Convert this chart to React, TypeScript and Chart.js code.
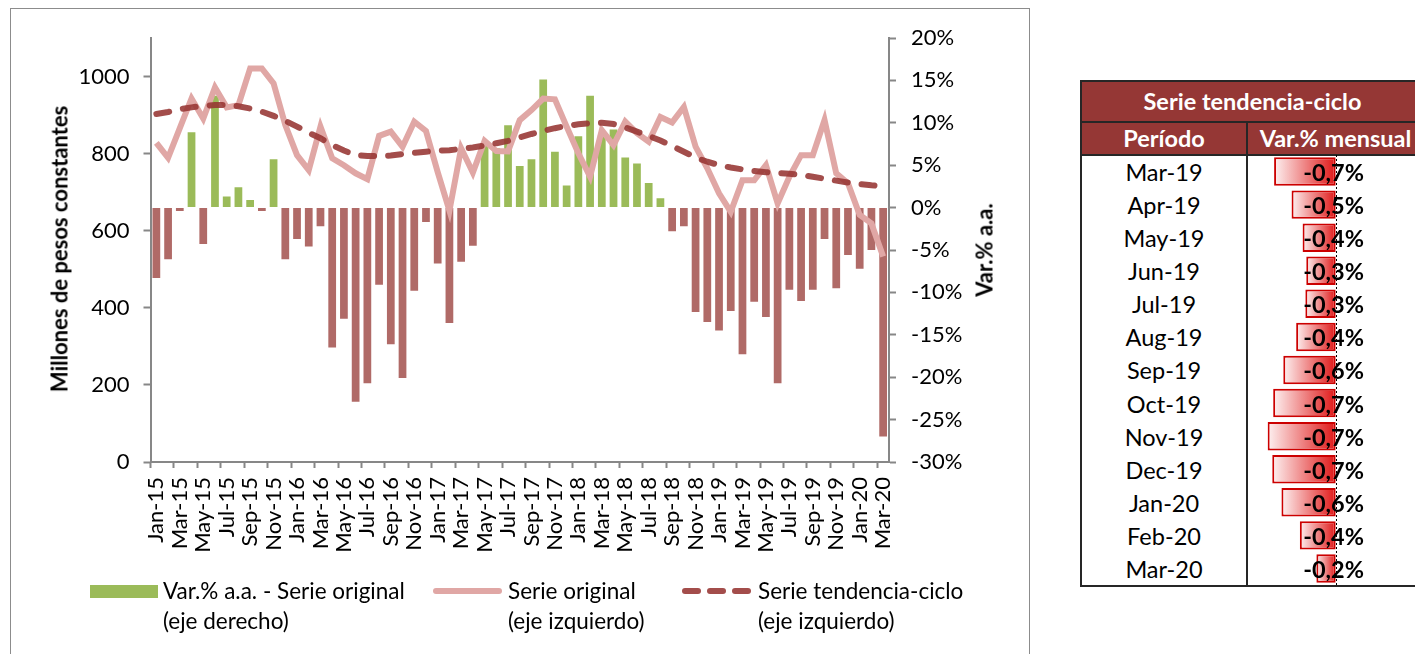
import React, { useEffect, useRef } from 'react';
import { Chart, registerables } from 'chart.js';

Chart.register(...registerables);

const FONT = 'Lato, Carlito, "Liberation Sans", sans-serif';

const months = [
  'Jan-15', 'Feb-15', 'Mar-15', 'Apr-15', 'May-15', 'Jun-15', 'Jul-15', 'Aug-15', 'Sep-15', 'Oct-15', 'Nov-15', 'Dec-15',
  'Jan-16', 'Feb-16', 'Mar-16', 'Apr-16', 'May-16', 'Jun-16', 'Jul-16', 'Aug-16', 'Sep-16', 'Oct-16', 'Nov-16', 'Dec-16',
  'Jan-17', 'Feb-17', 'Mar-17', 'Apr-17', 'May-17', 'Jun-17', 'Jul-17', 'Aug-17', 'Sep-17', 'Oct-17', 'Nov-17', 'Dec-17',
  'Jan-18', 'Feb-18', 'Mar-18', 'Apr-18', 'May-18', 'Jun-18', 'Jul-18', 'Aug-18', 'Sep-18', 'Oct-18', 'Nov-18', 'Dec-18',
  'Jan-19', 'Feb-19', 'Mar-19', 'Apr-19', 'May-19', 'Jun-19', 'Jul-19', 'Aug-19', 'Sep-19', 'Oct-19', 'Nov-19', 'Dec-19',
  'Jan-20', 'Feb-20', 'Mar-20',
];

// Var.% a.a. - Serie original (eje derecho)
const varAA = [
  -8.3, -6.1, -0.4, 8.9, -4.3, 13.2, 1.3, 2.4, 0.9, -0.4, 5.7, -6.1,
  -3.7, -4.6, -2.2, -16.5, -13.1, -22.9, -20.7, -9.1, -16.1, -20.1, -9.8, -1.7,
  -6.6, -13.6, -6.4, -4.5, 7.6, 7.0, 9.7, 4.9, 5.7, 15.1, 6.6, 2.6,
  8.4, 13.2, 8.6, 9.2, 5.9, 5.2, 2.9, 1.1, -2.8, -2.2, -12.3, -13.5,
  -14.5, -12.2, -17.3, -11.1, -12.9, -20.7, -9.7, -11.0, -9.7, -3.7, -9.5, -5.6,
  -7.2, -5.0, -27.0,
];

// Serie original (eje izquierdo)
const serieOriginal = [
  828, 789, 866, 943, 891, 972, 920, 926, 1021, 1021, 982, 874,
  796, 757, 870, 788, 770, 749, 734, 846, 857, 818, 883, 859,
  752, 652, 814, 751, 833, 807, 806, 887, 913, 943, 941, 870,
  801, 740, 861, 822, 883, 853, 831, 895, 881, 921, 818, 762,
  697, 649, 731, 731, 770, 671, 740, 796, 796, 887, 749, 723,
  641, 619, 533,
];

// Serie tendencia-ciclo (eje izquierdo)
const serieTendencia = [
  903, 908, 915, 920, 924, 926, 926, 923, 917, 909, 898, 885,
  870, 854, 840, 822, 808, 796, 794, 794, 795, 799, 802, 805,
  808, 809, 812, 816, 821, 827, 833, 842, 851, 859, 866, 872,
  876, 879, 880, 877, 868, 857, 846, 834, 820, 805, 790, 779,
  770, 764, 759, 755, 752, 750, 748, 745, 740, 735, 730, 725,
  721, 718, 716,
];

const leftMax = 1100;
const leftStep = 200;
const leftLastTick = 1000;
const rightMin = -30;
const rightMax = 20;
const rightStep = 5;

// Table: Serie tendencia-ciclo, Var.% mensual
const tablePeriods = ['Mar-19', 'Apr-19', 'May-19', 'Jun-19', 'Jul-19', 'Aug-19', 'Sep-19', 'Oct-19', 'Nov-19', 'Dec-19', 'Jan-20', 'Feb-20', 'Mar-20'];
const tableVar = [-0.67, -0.48, -0.36, -0.32, -0.33, -0.43, -0.57, -0.68, -0.74, -0.69, -0.59, -0.39, -0.21];

const AXIS = '#878787';
const TICK_FONT = 22;

function MainChart() {
  const ref = useRef<HTMLCanvasElement>(null);
  useEffect(() => {
    Chart.defaults.font.family = FONT;
    Chart.defaults.color = '#000';
    const chart = new Chart(ref.current as HTMLCanvasElement, {
      type: 'bar',
      data: {
        labels: months,
        datasets: [
          {
            type: 'line',
            label: 'Serie tendencia-ciclo',
            data: serieTendencia,
            yAxisID: 'yL',
            borderColor: 'rgba(150,52,50,0.88)',
            borderWidth: 6,
            borderDash: [13, 14],
            borderCapStyle: 'round',
            pointRadius: 0,
            tension: 0,
            fill: false,
            order: 1,
          } as any,
          {
            type: 'line',
            label: 'Serie original',
            data: serieOriginal,
            yAxisID: 'yL',
            borderColor: '#E0A7A5',
            borderWidth: 6,
            pointRadius: 0,
            tension: 0,
            fill: false,
            order: 2,
          } as any,
          {
            type: 'bar',
            label: 'Var.% a.a. - Serie original',
            data: varAA,
            yAxisID: 'yR',
            backgroundColor: (c: any) => (c.raw >= 0 ? '#9BBB59' : '#B06A67'),
            barPercentage: 0.66,
            categoryPercentage: 1,
            order: 3,
          } as any,
        ],
      },
      options: {
        animation: false,
        responsive: true,
        maintainAspectRatio: false,
        devicePixelRatio: 1,
        layout: { padding: { top: 30, left: 0, right: 0, bottom: 0 } },
        plugins: { legend: { display: false }, tooltip: { enabled: false } },
        scales: {
          x: {
            grid: {
              display: true,
              drawOnChartArea: false,
              offset: true,
              tickLength: 6,
              tickWidth: 2,
              tickColor: (c: any) => (typeof c.index === 'number' && c.index % 2 === 0 ? AXIS : 'rgba(0,0,0,0)'),
            },
            border: { color: AXIS, width: 2 },
            ticks: {
              autoSkip: false,
              maxRotation: 90,
              minRotation: 90,
              padding: 9,
              color: '#000',
              font: { size: TICK_FONT, family: FONT },
              callback: (_v: any, i: number) => (i % 2 === 0 ? months[i] : ''),
            },
            afterFit: (s: any) => {
              s.height = 192;
            },
          } as any,
          yL: {
            position: 'left',
            min: 0,
            max: leftMax,
            ticks: {
              stepSize: leftStep,
              padding: 14,
              color: '#000',
              font: { size: TICK_FONT, family: FONT },
              callback: (v: any) => String(v),
            },
            afterBuildTicks: (s: any) => {
              s.ticks = s.ticks.filter((t: any) => t.value <= leftLastTick);
            },
            grid: { drawOnChartArea: false, tickLength: 7, tickWidth: 2, tickColor: AXIS },
            border: { color: AXIS, width: 2 },
            afterFit: (s: any) => {
              s.width = 140.5;
            },
          } as any,
          yR: {
            position: 'right',
            min: rightMin,
            max: rightMax,
            ticks: {
              stepSize: rightStep,
              padding: 15,
              color: '#000',
              font: { size: TICK_FONT, family: FONT },
              callback: (v: any) => `${v}%`,
            },
            grid: { drawOnChartArea: false, tickLength: 7, tickWidth: 2, tickColor: AXIS },
            border: { color: AXIS, width: 2 },
            afterFit: (s: any) => {
              s.width = 141;
            },
          } as any,
        },
      },
    });
    return () => chart.destroy();
  }, []);
  return (
    <div style={{ position: 'absolute', left: 10, top: 8, width: 1020, height: 646 }}>
      <canvas ref={ref} />
    </div>
  );
}

const zeroLinePlugin = {
  id: 'zeroLine',
  afterDatasetsDraw(chart: any) {
    const xs = chart.scales.x;
    if (!xs) return;
    const x0 = Math.round(xs.getPixelForValue(0)) + 0.5;
    const ctx = chart.ctx;
    ctx.save();
    ctx.strokeStyle = '#000';
    ctx.lineWidth = 1;
    ctx.setLineDash([2, 2]);
    ctx.beginPath();
    ctx.moveTo(x0, 0);
    ctx.lineTo(x0, chart.height);
    ctx.stroke();
    ctx.restore();
  },
};

function TableBars() {
  const ref = useRef<HTMLCanvasElement>(null);
  useEffect(() => {
    const chart = new Chart(ref.current as HTMLCanvasElement, {
      type: 'bar',
      data: {
        labels: tablePeriods,
        datasets: [
          {
            data: tableVar,
            backgroundColor: (c: any) => {
              const ch = c.chart;
              const xs = ch && ch.scales && ch.scales.x;
              if (!xs || typeof c.raw !== 'number') return '#e06060';
              const x0 = xs.getPixelForValue(0);
              const x1 = xs.getPixelForValue(c.raw);
              if (!Number.isFinite(x0) || !Number.isFinite(x1) || x0 === x1) return '#e06060';
              const g = ch.ctx.createLinearGradient(x1, 0, x0, 0);
              g.addColorStop(0, '#fdf1f1');
              g.addColorStop(1, '#e01818');
              return g;
            },
            borderColor: '#cc0000',
            borderWidth: 2,
            borderSkipped: false,
            barPercentage: 0.86,
            categoryPercentage: 1,
          } as any,
        ],
      },
      options: {
        indexAxis: 'y',
        animation: false,
        responsive: true,
        maintainAspectRatio: false,
        devicePixelRatio: 1,
        layout: { padding: 0 },
        plugins: { legend: { display: false }, tooltip: { enabled: false } },
        scales: {
          x: { display: false, min: -0.943, max: 0.863 },
          y: { display: false },
        },
      },
      plugins: [zeroLinePlugin],
    });
    return () => chart.destroy();
  }, []);
  return (
    <div style={{ position: 'absolute', left: 1249, top: 155, width: 166, height: 430 }}>
      <canvas ref={ref} />
    </div>
  );
}

const fmt = (v: number) => `${v.toFixed(1).replace('.', ',')}%`;

export default function App() {
  const rowH = 430 / tablePeriods.length;
  const txt: React.CSSProperties = { fontFamily: FONT, fontSize: 22.5, color: '#000', whiteSpace: 'nowrap', position: 'absolute' };
  const tfs = 23.5;
  return (
    <div style={{ position: 'absolute', left: 0, top: 0, width: 1415, height: 654, overflow: 'hidden', background: '#fff' }}>
      {/* chart frame */}
      <div style={{ position: 'absolute', left: 10, top: 8, width: 1020, height: 680, border: '1px solid #8c8c8c', boxSizing: 'border-box' }} />
      <MainChart />
      {/* axis titles */}
      <div style={{ ...txt, fontSize: 22, fontWeight: 700, left: 59, top: 249, transform: 'translate(-50%, -50%) rotate(-90deg)' }}>
        Millones de pesos constantes
      </div>
      <div style={{ ...txt, fontSize: 22, fontWeight: 700, left: 984, top: 250, transform: 'translate(-50%, -50%) rotate(-90deg)' }}>
        Var.% a.a.
      </div>
      {/* legend */}
      <div style={{ position: 'absolute', left: 90, top: 585, width: 68, height: 13, background: '#9BBB59' }} />
      <div style={{ ...txt, left: 163, top: 576, lineHeight: '30px' }}>
        Var.% a.a. - Serie original
        <br />
        (eje derecho)
      </div>
      <div style={{ position: 'absolute', left: 433, top: 588, width: 69, height: 6, borderRadius: 3, background: '#E0A7A5' }} />
      <div style={{ ...txt, left: 508, top: 576, lineHeight: '30px' }}>
        Serie original
        <br />
        (eje izquierdo)
      </div>
      {[0, 1, 2].map((k) => (
        <div key={k} style={{ position: 'absolute', left: 682 + k * 25, top: 588, width: 19, height: 6, borderRadius: 3, background: 'rgba(150,52,50,0.88)' }} />
      ))}
      <div style={{ ...txt, left: 758, top: 576, lineHeight: '30px' }}>
        Serie tendencia-ciclo
        <br />
        (eje izquierdo)
      </div>

      {/* table */}
      <div style={{ position: 'absolute', left: 1080, top: 80, width: 345, height: 507, border: '2px solid #262626', boxSizing: 'border-box' }} />
      <div style={{ position: 'absolute', left: 1082, top: 82, width: 343, height: 39, background: '#953735' }} />
      <div style={{ position: 'absolute', left: 1082, top: 121, width: 343, height: 2, background: '#262626' }} />
      <div style={{ position: 'absolute', left: 1082, top: 123, width: 343, height: 31, background: '#953735' }} />
      <div style={{ position: 'absolute', left: 1082, top: 154, width: 343, height: 2, background: '#262626' }} />
      <div style={{ position: 'absolute', left: 1246, top: 121, width: 2, height: 464, background: '#262626' }} />
      <div style={{ ...txt, fontSize: tfs, fontWeight: 700, color: '#fff', left: 1082, width: 341, top: 82, height: 39, lineHeight: '39px', textAlign: 'center' }}>
        Serie tendencia-ciclo
      </div>
      <div style={{ ...txt, fontSize: tfs, fontWeight: 700, color: '#fff', left: 1082, width: 164, top: 123, height: 31, lineHeight: '31px', textAlign: 'center' }}>
        Período
      </div>
      <div style={{ ...txt, fontSize: tfs, fontWeight: 700, color: '#fff', left: 1248, width: 175, top: 123, height: 31, lineHeight: '31px', textAlign: 'center' }}>
        Var.% mensual
      </div>
      <TableBars />
      {tablePeriods.map((p, i) => (
        <div key={p} style={{ ...txt, fontSize: tfs, left: 1082, width: 164, top: 156 + i * rowH, height: rowH, lineHeight: `${rowH}px`, textAlign: 'center' }}>
          {p}
        </div>
      ))}
      {tableVar.map((v, i) => (
        <div key={i} style={{ ...txt, fontSize: tfs, fontWeight: 700, left: 1244, width: 120, top: 156 + i * rowH, height: rowH, lineHeight: `${rowH}px`, textAlign: 'right' }}>
          {fmt(v)}
        </div>
      ))}
    </div>
  );
}
